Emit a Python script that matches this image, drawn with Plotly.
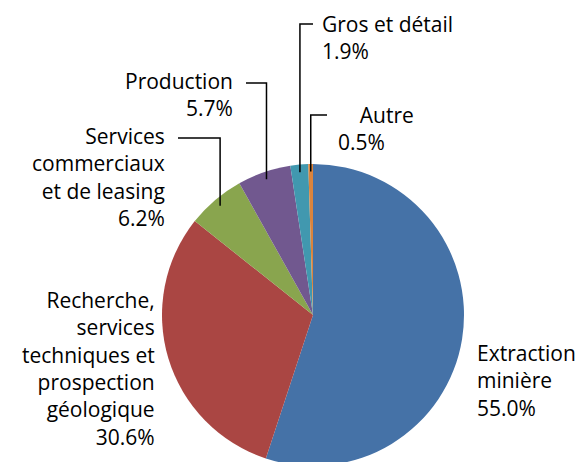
import math

import plotly.graph_objects as go

W, H = 583, 462
# la page html garde la marge de 8 px du <body>
OFF = 8

# Données (secteurs, part en %)
labels = [
    "Extraction minière",
    "Recherche, services techniques et prospection géologique",
    "Services commerciaux et de leasing",
    "Production",
    "Gros et détail",
    "Autre",
]
values = [55.0, 30.6, 6.2, 5.7, 1.9, 0.5]
colors = ["#4572A7", "#AA4643", "#89A54E", "#71588F", "#4198AF", "#DB843D"]

# Texte affiché à côté du camembert
label_text = [
    "Extraction<br>minière<br>55.0%",
    "Recherche,<br>services<br>techniques et<br>prospection<br>géologique<br>30.6%",
    "Services<br>commerciaux<br>et de leasing<br>6.2%",
    "Production<br>5.7%",
    "Gros et détail<br>1.9%",
    "&nbsp;&nbsp;&nbsp;&nbsp;Autre<br>0.5%",
]

# position du texte en pixels (x, y centre, ancrage)
label_pos = [
    (476, 380, "left"),
    (156, 368, "right"),
    (166, 177, "right"),
    (234, 94, "right"),
    (321, 37, "left"),
    (337, 129, "left"),
]

# lignes de rappel : (y du trait horizontal, x de l'extrémité côté texte)
leaders = {2: (138, 178), 3: (83, 246), 4: (24, 313), 5: (115, 327)}

CX, CY, R = 313, 315, 151


def px(x):
    return (x - OFF) / W


def py(y):
    return 1 - (y - OFF) / H


fig = go.Figure(go.Pie(
    labels=labels,
    values=values,
    sort=False,
    direction="clockwise",
    rotation=0,
    textinfo="none",
    hoverinfo="label+percent",
    marker=dict(colors=colors, line=dict(width=0)),
    domain=dict(x=[px(CX - R), px(CX + R)], y=[py(CY + R), py(CY - R)]),
    showlegend=False,
))

font = dict(family="Open Sans, sans-serif", size=21, color="#000000")

annotations = []
for txt, (x, y, anchor) in zip(label_text, label_pos):
    annotations.append(dict(
        x=px(x), y=py(y), xref="paper", yref="paper",
        text=txt, showarrow=False, xanchor=anchor, yanchor="middle",
        align=anchor, font=font, borderpad=0,
    ))

# milieu de chaque secteur, à 95 % du rayon
total = sum(values)
shapes = []
cum = 0
for i, v in enumerate(values):
    mid = (cum + v / 2) / total * 2 * math.pi
    cum += v
    if i not in leaders:
        continue
    ex = CX + 0.95 * R * math.sin(mid)
    ey = CY - 0.95 * R * math.cos(mid)
    hy, hx = leaders[i]
    path = f"M {px(hx)} {py(hy)} L {px(ex)} {py(hy)} L {px(ex)} {py(ey)}"
    shapes.append(dict(type="path", xref="paper", yref="paper", path=path,
                       line=dict(color="#000000", width=1.5)))

fig.update_layout(
    width=W,
    height=H,
    margin=dict(l=0, r=0, t=0, b=0),
    paper_bgcolor="white",
    plot_bgcolor="white",
    annotations=annotations,
    shapes=shapes,
)

fig.write_html("out.html")
